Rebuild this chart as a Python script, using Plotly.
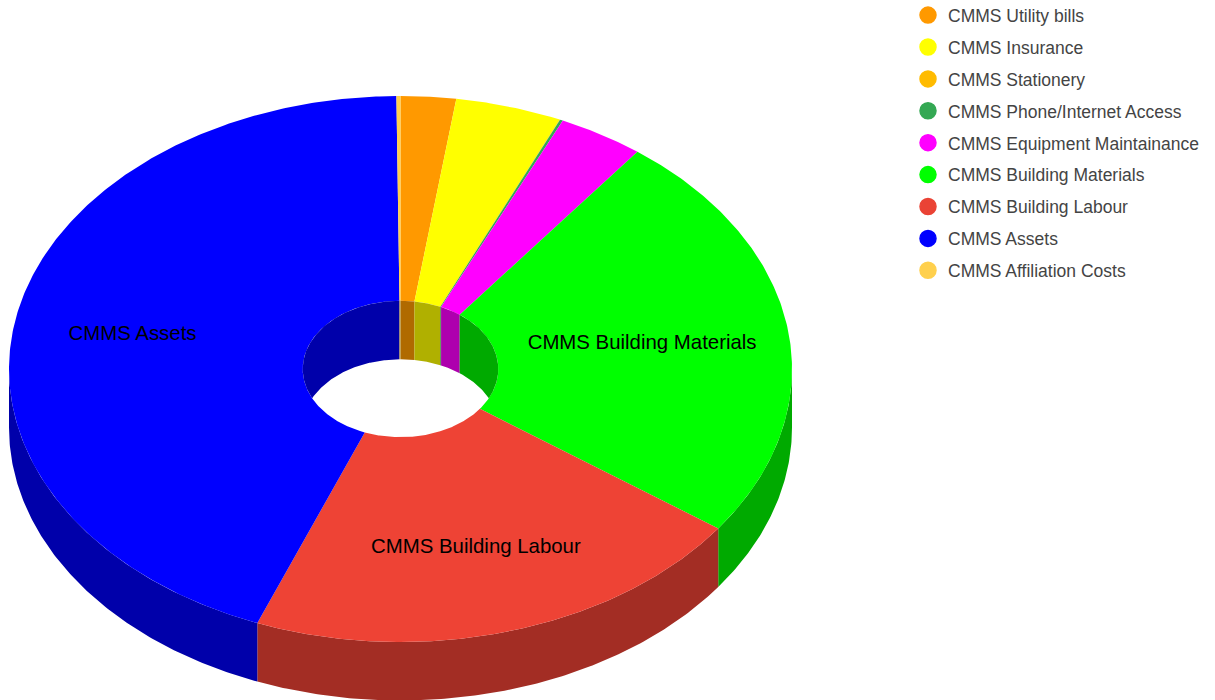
import numpy as np
import plotly.graph_objects as go

categories = ["CMMS Utility bills", "CMMS Insurance", "CMMS Stationery",
              "CMMS Phone/Internet Access", "CMMS Equipment Maintainance",
              "CMMS Building Materials", "CMMS Building Labour", "CMMS Assets",
              "CMMS Affiliation Costs"]
# share of the full turn, in degrees
values = [8.2, 15.8, 0.05, 0.45, 12.75, 88.5, 75.7, 157.95, 0.6]
legend_colors = ["#FF9900", "#FFFF00", "#FFBB00", "#34A853", "#FF00FF",
                 "#00FF00", "#EA4335", "#0000FF", "#FFD04D"]
top_colors = ["#FF9900", "#FFFF00", "#FFBB00", "#34A853", "#FF00FF",
              "#00FF00", "#EE4335", "#0000FF", "#FFD04D"]
side_colors = ["#B06A00", "#B0B000", "#B08000", "#247539", "#AE00AE",
               "#00AA00", "#A32D24", "#0000AA", "#B09035"]
labelled = ["CMMS Building Materials", "CMMS Building Labour", "CMMS Assets"]

CX, CY, RX, RY = 400.5, 369.0, 391.5, 273.0
HRX, HRY = 97.8, 68.2
DEPTH = 58.5
LABEL_R = {"CMMS Building Materials": 0.624, "CMMS Building Labour": 0.682, "CMMS Assets": 0.696}


def arc(a0, a1, rx, ry):
    n = max(2, int(abs(a1 - a0) * 2) + 2)
    t = np.radians(np.linspace(a0, a1, n))
    return CX + rx * np.sin(t), CY - ry * np.cos(t)


edges = np.concatenate([[0.0], np.cumsum(values)])
edges = edges * 360.0 / edges[-1]

fig = go.Figure()


def poly(xs, ys, color):
    fig.add_trace(go.Scatter(x=xs, y=ys, mode="lines", fill="toself", fillcolor=color,
                             line=dict(width=0), showlegend=False, hoverinfo="skip"))


# outer wall (front half only)
for i in range(len(values)):
    a0, a1 = max(edges[i], 90.0), min(edges[i + 1], 270.0)
    if a1 > a0:
        x, y = arc(a0, a1, RX, RY)
        poly(np.r_[x, x[::-1]], np.r_[y, y[::-1] + DEPTH], side_colors[i])

# top faces
for i in range(len(values)):
    xo, yo = arc(edges[i], edges[i + 1], RX, RY)
    xi, yi = arc(edges[i + 1], edges[i], HRX, HRY)
    poly(np.r_[xo, xi], np.r_[yo, yi], top_colors[i])

# inner wall (back half of the hole)
for i in range(len(values)):
    for lo, hi in ((0.0, 90.0), (270.0, 360.0)):
        a0, a1 = max(edges[i], lo), min(edges[i + 1], hi)
        if a1 > a0:
            x, y = arc(a0, a1, HRX, HRY)
            mirror = 2 * CY - y
            bottom = np.minimum(y + DEPTH, mirror)
            poly(np.r_[x, x[::-1]], np.r_[y, bottom[::-1]], side_colors[i])

# labels
for name in labelled:
    i = categories.index(name)
    mid = np.radians((edges[i] + edges[i + 1]) / 2)
    r = LABEL_R[name]
    fig.add_trace(go.Scatter(x=[CX + r * RX * np.sin(mid)], y=[CY - r * RY * np.cos(mid)],
                             mode="text", text=[name], textposition="middle center",
                             textfont=dict(family="Liberation Sans, Arial", size=20.4, color="#000000"),
                             showlegend=False, hoverinfo="skip"))

# legend entries
for i, name in enumerate(categories):
    fig.add_trace(go.Scatter(x=[None], y=[None], mode="markers", name=name, legendgroup=name,
                             marker=dict(size=16, color=legend_colors[i],
                                         line=dict(width=1.5, color=legend_colors[i]))))

fig.update_layout(
    width=1215, height=700, margin=dict(l=0, r=0, t=0, b=0, pad=0, autoexpand=False),
    paper_bgcolor="#FFFFFF", plot_bgcolor="#FFFFFF",
    xaxis=dict(range=[0, 1215], visible=False, fixedrange=True),
    yaxis=dict(range=[700, 0], visible=False, fixedrange=True),
    legend=dict(x=908 / 1215, y=1.004, xanchor="left", yanchor="top",
                font=dict(family="Liberation Sans, Arial", size=17.5, color="#444444"),
                tracegroupgap=6.15, bgcolor="rgba(0,0,0,0)"),
    hovermode=False,
)
fig.write_html("out.html", config={"displayModeBar": False},
               post_script="document.body.style.margin='0';")
